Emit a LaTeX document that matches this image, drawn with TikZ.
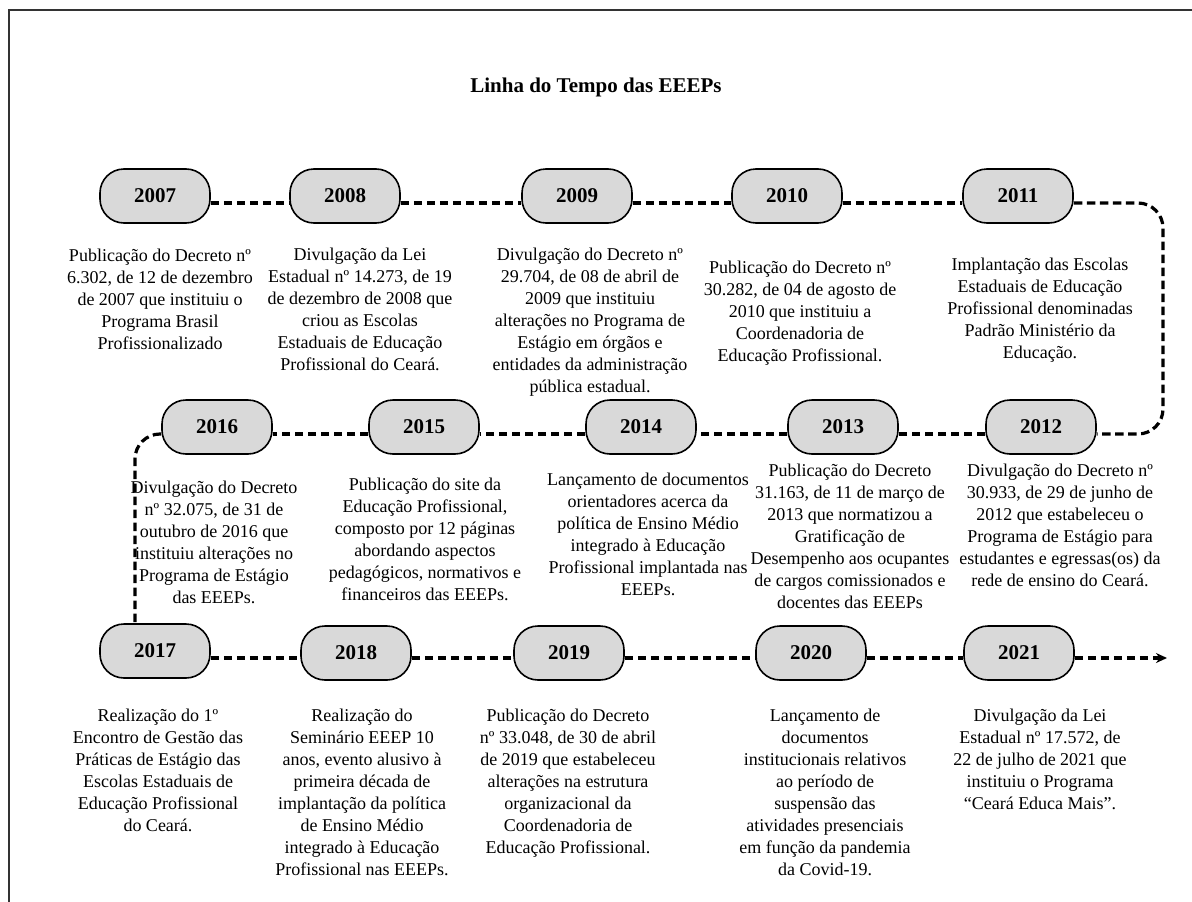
\documentclass[tikz,border=0pt]{standalone}
\usepackage{fontspec}
\setmainfont{Liberation Serif}
\usetikzlibrary{arrows.meta}

\tikzset{
  yearbox/.style={draw=black, line width=1.6pt, fill=black!15, rounded corners=24pt,
    minimum width=110pt, minimum height=54pt, inner sep=0pt,
    font=\fontsize{21}{24}\selectfont\bfseries},
  eventtext/.style={align=center, inner sep=0pt, anchor=north,
    font=\fontsize{18}{22}\selectfont},
  timeline/.style={line width=3.2pt, dash pattern=on 8.5pt off 4.5pt, black}
}

\begin{document}
\begin{tikzpicture}[x=1pt, y=-1pt]
 \useasboundingbox (0,0) rectangle (1192,902);
 \draw[line width=2pt, black!80] (9,902) -- (9,10) -- (1192,10);

 \node[font=\fontsize{21}{25}\selectfont\bfseries] (title) at (596,87) {Linha do Tempo das EEEPs};

 \coordinate (row1) at (0,203);
 \coordinate (row2) at (0,434);
 \coordinate (row3) at (0,658);
 \coordinate (turnR) at (1163,0);
 \coordinate (turnL) at (135,0);
 \coordinate (arrowend) at (1167,0);

 % first row
 \node[yearbox] (y2007) at (155,196) {2007};
 \node[yearbox] (y2008) at (345,196) {2008};
 \node[yearbox] (y2009) at (577,196) {2009};
 \node[yearbox] (y2010) at (787,196) {2010};
 \node[yearbox] (y2011) at (1018,196) {2011};

 \node[eventtext] (t2007) at (160,249) {Publicação do Decreto nº\\6.302, de 12 de dezembro\\de 2007 que instituiu o\\Programa Brasil\\Profissionalizado};
 \node[eventtext] (t2008) at (360,248) {Divulgação da Lei\\Estadual nº 14.273, de 19\\de dezembro de 2008 que\\criou as Escolas\\Estaduais de Educação\\Profissional do Ceará.};
 \node[eventtext] (t2009) at (590,248) {Divulgação do Decreto nº\\29.704, de 08 de abril de\\2009 que instituiu\\alterações no Programa de\\Estágio em órgãos e\\entidades da administração\\pública estadual.};
 \node[eventtext] (t2010) at (800,261) {Publicação do Decreto nº\\30.282, de 04 de agosto de\\2010 que instituiu a\\Coordenadoria de\\Educação Profissional.};
 \node[eventtext] (t2011) at (1040,258) {Implantação das Escolas\\Estaduais de Educação\\Profissional denominadas\\Padrão Ministério da\\Educação.};

 % second row
 \node[yearbox] (y2016) at (217,427) {2016};
 \node[yearbox] (y2015) at (424,427) {2015};
 \node[yearbox] (y2014) at (641,427) {2014};
 \node[yearbox] (y2013) at (843,427) {2013};
 \node[yearbox] (y2012) at (1041,427) {2012};

 \node[eventtext] (t2016) at (214,481) {Divulgação do Decreto\\nº 32.075, de 31 de\\outubro de 2016 que\\instituiu alterações no\\Programa de Estágio\\das EEEPs.};
 \node[eventtext] (t2015) at (425,478) {Publicação do site da\\Educação Profissional,\\composto por 12 páginas\\abordando aspectos\\pedagógicos, normativos e\\financeiros das EEEPs.};
 \node[eventtext] (t2014) at (648,473) {Lançamento de documentos\\orientadores acerca da\\política de Ensino Médio\\integrado à Educação\\Profissional implantada nas\\EEEPs.};
 \node[eventtext] (t2013) at (850,464) {Publicação do Decreto\\31.163, de 11 de março de\\2013 que normatizou a\\Gratificação de\\Desempenho aos ocupantes\\de cargos comissionados e\\docentes das EEEPs};
 \node[eventtext] (t2012) at (1060,464) {Divulgação do Decreto nº\\30.933, de 29 de junho de\\2012 que estabeleceu o\\Programa de Estágio para\\estudantes e egressas(os) da\\rede de ensino do Ceará.};

 % third row
 \node[yearbox] (y2017) at (155,651) {2017};
 \node[yearbox] (y2018) at (356,653) {2018};
 \node[yearbox] (y2019) at (569,653) {2019};
 \node[yearbox] (y2020) at (811,653) {2020};
 \node[yearbox] (y2021) at (1019,653) {2021};

 \node[eventtext] (t2017) at (158,709) {Realização do 1º\\Encontro de Gestão das\\Práticas de Estágio das\\Escolas Estaduais de\\Educação Profissional\\do Ceará.};
 \node[eventtext] (t2018) at (362,709) {Realização do\\Seminário EEEP 10\\anos, evento alusivo à\\primeira década de\\implantação da política\\de Ensino Médio\\integrado à Educação\\Profissional nas EEEPs.};
 \node[eventtext] (t2019) at (568,709) {Publicação do Decreto\\nº 33.048, de 30 de abril\\de 2019 que estabeleceu\\alterações na estrutura\\organizacional da\\Coordenadoria de\\Educação Profissional.};
 \node[eventtext] (t2020) at (825,709) {Lançamento de\\documentos\\institucionais relativos\\ao período de\\suspensão das\\atividades presenciais\\em função da pandemia\\da Covid-19.};
 \node[eventtext] (t2021) at (1040,709) {Divulgação da Lei\\Estadual nº 17.572, de\\22 de julho de 2021 que\\instituiu o Programa\\“Ceará Educa Mais”.};

 % connectors
 \draw[timeline] (y2007.east |- row1) -- (y2008.west |- row1);
 \draw[timeline] (y2008.east |- row1) -- (y2009.west |- row1);
 \draw[timeline] (y2009.east |- row1) -- (y2010.west |- row1);
 \draw[timeline] (y2010.east |- row1) -- (y2011.west |- row1);
 \draw[timeline, rounded corners=25pt] (y2011.east |- row1) -- (turnR |- row1) -- (turnR |- row2) -- (y2012.east |- row2);
 \draw[timeline] (y2012.west |- row2) -- (y2013.east |- row2);
 \draw[timeline] (y2013.west |- row2) -- (y2014.east |- row2);
 \draw[timeline] (y2014.west |- row2) -- (y2015.east |- row2);
 \draw[timeline] (y2015.west |- row2) -- (y2016.east |- row2);
 \draw[timeline, rounded corners=25pt] (y2016.west |- row2) -- (turnL |- row2) -- (turnL |- y2017.north);
 \draw[timeline] (y2017.east |- row3) -- (y2018.west |- row3);
 \draw[timeline] (y2018.east |- row3) -- (y2019.west |- row3);
 \draw[timeline] (y2019.east |- row3) -- (y2020.west |- row3);
 \draw[timeline] (y2020.east |- row3) -- (y2021.west |- row3);
 \draw[timeline, -{Stealth[length=11pt, width=10pt]}] (y2021.east |- row3) -- (arrowend |- row3);
\end{tikzpicture}
\end{document}
